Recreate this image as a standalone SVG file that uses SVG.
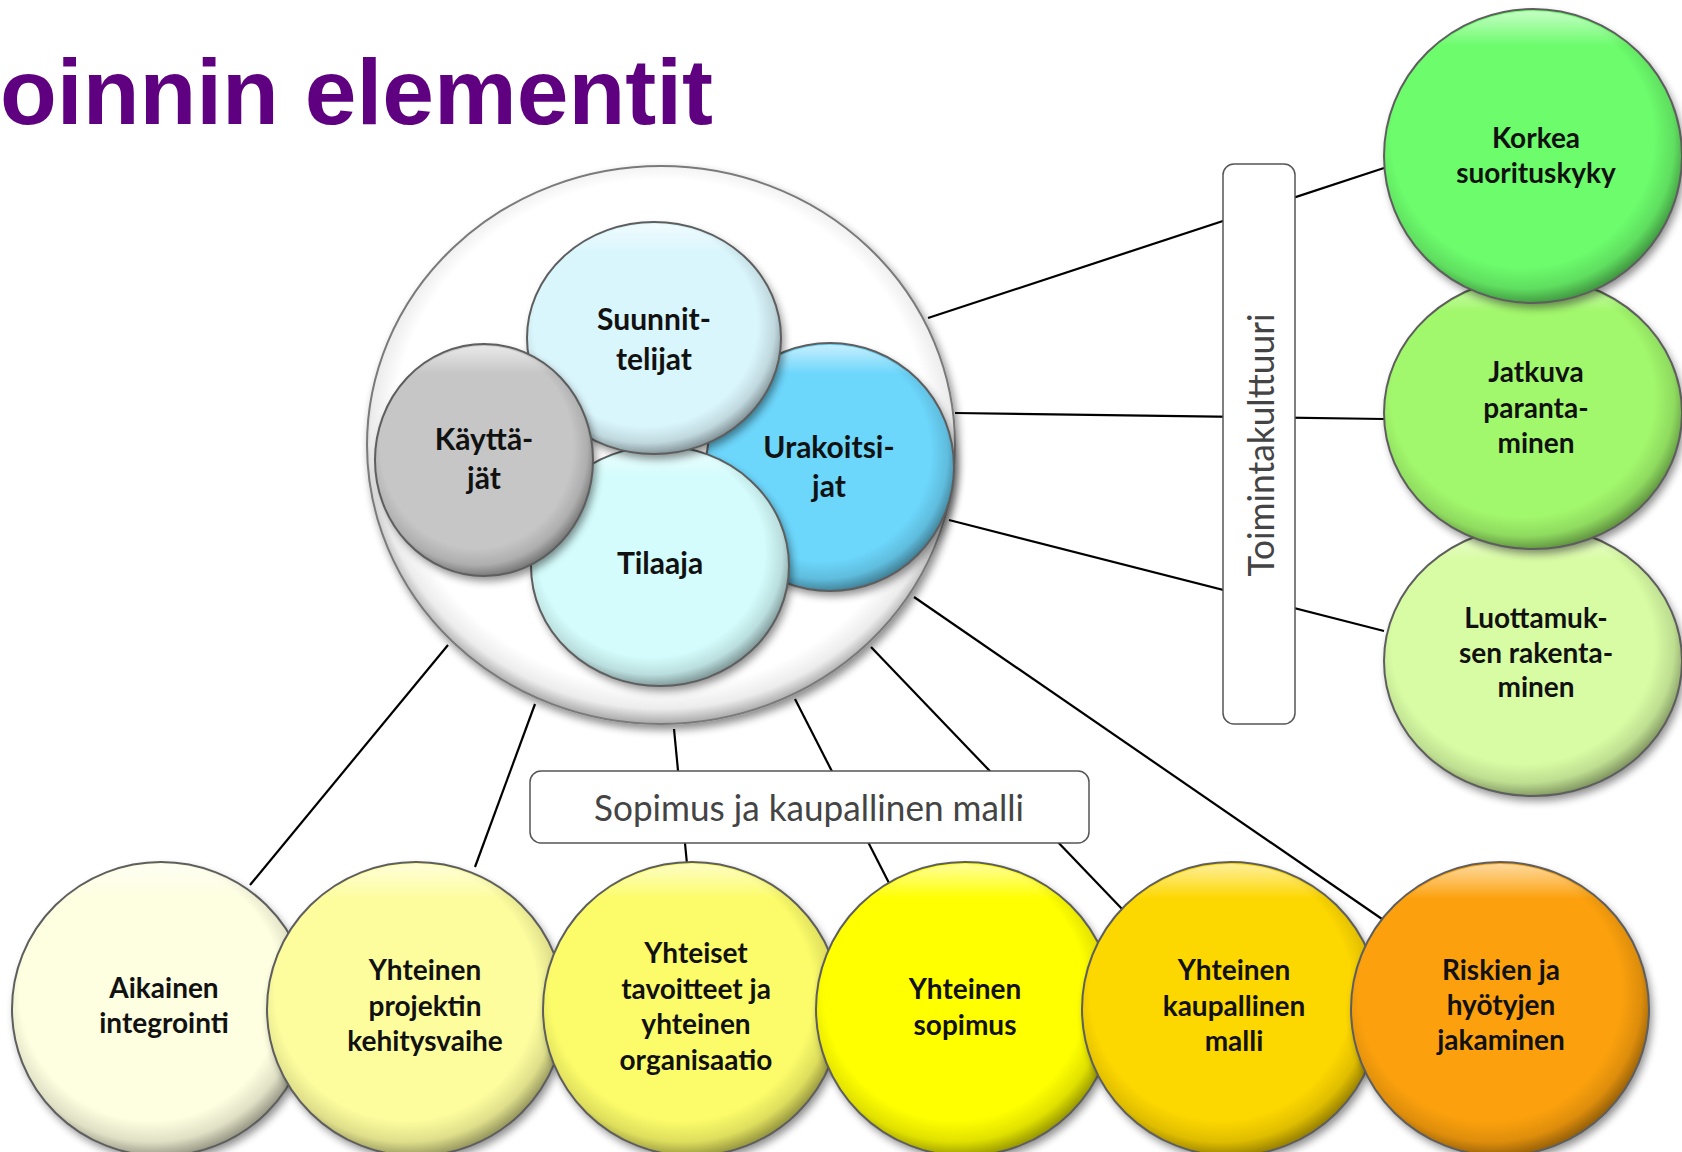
<svg xmlns="http://www.w3.org/2000/svg" width="1682" height="1152" viewBox="0 0 1682 1152">
<style>
.bev{fill:url(#bev);stroke:#5e5e5e;stroke-width:2}
.lbl{font-family:Lato,"Liberation Sans",sans-serif;font-weight:bold;font-size:28px;fill:#111;text-anchor:middle}
.lbl2{font-family:Lato,"Liberation Sans",sans-serif;font-weight:bold;font-size:30px;fill:#111;text-anchor:middle}
.box{fill:#fff;stroke:#555;stroke-width:1.5}
.boxt{font-family:Lato,"Open Sans",sans-serif;font-weight:normal;font-size:36px;fill:#444;text-anchor:middle}
.con line{stroke:#000;stroke-width:2.2}
</style>
<defs>
<radialGradient id="bev" cx="0.47" cy="0.45" r="0.55" fx="0.45" fy="0.4">
<stop offset="0" stop-color="#fff" stop-opacity="0"/>
<stop offset="0.8" stop-color="#000" stop-opacity="0"/>
<stop offset="0.92" stop-color="#000" stop-opacity="0.12"/>
<stop offset="1" stop-color="#000" stop-opacity="0.38"/>
</radialGradient>
<linearGradient id="hl" x1="0" y1="0" x2="0" y2="1">
<stop offset="0" stop-color="#fff" stop-opacity="0.6"/>
<stop offset="0.12" stop-color="#fff" stop-opacity="0"/>
</linearGradient>
<radialGradient id="ring" cx="0.5" cy="0.48" r="0.53">
<stop offset="0.86" stop-color="#fff"/>
<stop offset="0.93" stop-color="#ececec"/>
<stop offset="1" stop-color="#8f8f8f"/>
</radialGradient>
<filter id="sh" x="-20%" y="-20%" width="140%" height="140%">
<feGaussianBlur in="SourceAlpha" stdDeviation="4"/>
<feOffset dx="3" dy="5"/>
<feComponentTransfer><feFuncA type="linear" slope="0.45"/></feComponentTransfer>
<feMerge><feMergeNode/><feMergeNode in="SourceGraphic"/></feMerge>
</filter>
</defs>
<rect width="1682" height="1152" fill="#fff"/>
<text x="0" y="124" font-family="Liberation Sans, Arial, sans-serif" font-weight="bold" font-size="93" fill="#5e0080">oinnin elementit</text>

<g id="connectors" class="con">
<line x1="928" y1="318" x2="1384" y2="168"/>
<line x1="955" y1="413" x2="1384" y2="419"/>
<line x1="949" y1="520" x2="1384" y2="631"/>
<line x1="448" y1="645" x2="250" y2="885"/>
<line x1="535" y1="704" x2="475" y2="867"/>
<line x1="674" y1="729" x2="687" y2="864"/>
<line x1="795" y1="699" x2="889" y2="883"/>
<line x1="871" y1="647" x2="1123" y2="910"/>
<line x1="914" y1="597" x2="1382" y2="919"/>
</g>

<g id="n-outer">
<ellipse cx="661" cy="445" rx="294" ry="279" fill="url(#ring)" stroke="#7a7a7a" stroke-width="2" filter="url(#sh)"/>
</g>

<g id="n-urakoitsijat">
<ellipse cx="830" cy="467" rx="124" ry="124" fill="#6cd6fb" filter="url(#sh)"/>
<ellipse cx="830" cy="467" rx="124" ry="124" class="bev"/>
<ellipse cx="830" cy="467" rx="122" ry="122" fill="url(#hl)"/>
<text class="lbl2" x="829" y="458">Urakoitsi-</text>
<text class="lbl2" x="829" y="497">jat</text>
</g>
<g id="n-tilaaja">
<ellipse cx="660" cy="566" rx="129" ry="120" fill="#d4fcfc" filter="url(#sh)"/>
<ellipse cx="660" cy="566" rx="129" ry="120" class="bev"/>
<ellipse cx="660" cy="566" rx="127" ry="118" fill="url(#hl)"/>
<text class="lbl2" x="660" y="574">Tilaaja</text>
</g>
<g id="n-suunnittelijat">
<ellipse cx="654" cy="338" rx="127" ry="116" fill="#daf6fd" filter="url(#sh)"/>
<ellipse cx="654" cy="338" rx="127" ry="116" class="bev"/>
<ellipse cx="654" cy="338" rx="125" ry="114" fill="url(#hl)"/>
<text class="lbl2" x="654" y="330">Suunnit-</text>
<text class="lbl2" x="654" y="370">telijat</text>
</g>
<g id="n-kayttajat">
<ellipse cx="484" cy="460" rx="109" ry="116" fill="#c6c6c6" filter="url(#sh)"/>
<ellipse cx="484" cy="460" rx="109" ry="116" class="bev"/>
<ellipse cx="484" cy="460" rx="107" ry="114" fill="url(#hl)"/>
<text class="lbl2" x="484" y="450">Käyttä-</text>
<text class="lbl2" x="484" y="489">jät</text>
</g>

<g id="n-toimintakulttuuri">
<rect class="box" x="1223" y="164" width="72" height="560" rx="11"/>
<text class="boxt" transform="translate(1274,445) rotate(-90)" x="0" y="0" textLength="263" lengthAdjust="spacingAndGlyphs">Toimintakulttuuri</text>
</g>
<g id="n-sopimus">
<rect class="box" x="530" y="771" width="559" height="72" rx="11"/>
<text class="boxt" x="809" y="821" textLength="430" lengthAdjust="spacingAndGlyphs">Sopimus ja kaupallinen malli</text>
</g>

<g id="n-luottamuksen">
<ellipse cx="1533" cy="661" rx="149" ry="135" fill="#d8fca4" filter="url(#sh)"/>
<ellipse cx="1533" cy="661" rx="149" ry="135" class="bev"/>
<ellipse cx="1533" cy="661" rx="147" ry="133" fill="url(#hl)"/>
<text class="lbl" x="1536" y="628">Luottamuk-</text>
<text class="lbl" x="1536" y="663">sen rakenta-</text>
<text class="lbl" x="1536" y="697">minen</text>
</g>
<g id="n-jatkuva">
<ellipse cx="1533" cy="413" rx="149" ry="136" fill="#a2f86c" filter="url(#sh)"/>
<ellipse cx="1533" cy="413" rx="149" ry="136" class="bev"/>
<ellipse cx="1533" cy="413" rx="147" ry="134" fill="url(#hl)"/>
<text class="lbl" x="1536" y="382">Jatkuva</text>
<text class="lbl" x="1536" y="418">paranta-</text>
<text class="lbl" x="1536" y="453">minen</text>
</g>
<g id="n-korkea">
<ellipse cx="1533" cy="156" rx="149" ry="147" fill="#6cfc6c" filter="url(#sh)"/>
<ellipse cx="1533" cy="156" rx="149" ry="147" class="bev"/>
<ellipse cx="1533" cy="156" rx="147" ry="145" fill="url(#hl)"/>
<text class="lbl" x="1536" y="148">Korkea</text>
<text class="lbl" x="1536" y="183">suorituskyky</text>
</g>

<g id="n-aikainen">
<ellipse cx="161" cy="1009" rx="149" ry="147" fill="#fefee0" filter="url(#sh)"/>
<ellipse cx="161" cy="1009" rx="149" ry="147" class="bev"/>
<ellipse cx="161" cy="1009" rx="147" ry="145" fill="url(#hl)"/>
<text class="lbl" x="164" y="998">Aikainen</text>
<text class="lbl" x="164" y="1033">integrointi</text>
</g>
<g id="n-projektin">
<ellipse cx="416" cy="1009" rx="149" ry="147" fill="#fdfd9e" filter="url(#sh)"/>
<ellipse cx="416" cy="1009" rx="149" ry="147" class="bev"/>
<ellipse cx="416" cy="1009" rx="147" ry="145" fill="url(#hl)"/>
<text class="lbl" x="425" y="980">Yhteinen</text>
<text class="lbl" x="425" y="1016">projektin</text>
<text class="lbl" x="425" y="1051">kehitysvaihe</text>
</g>
<g id="n-tavoitteet">
<ellipse cx="692" cy="1009" rx="149" ry="147" fill="#fcfc6a" filter="url(#sh)"/>
<ellipse cx="692" cy="1009" rx="149" ry="147" class="bev"/>
<ellipse cx="692" cy="1009" rx="147" ry="145" fill="url(#hl)"/>
<text class="lbl" x="696" y="963">Yhteiset</text>
<text class="lbl" x="696" y="999">tavoitteet ja</text>
<text class="lbl" x="696" y="1034">yhteinen</text>
<text class="lbl" x="696" y="1070">organisaatio</text>
</g>
<g id="n-sopimus-ball">
<ellipse cx="965" cy="1009" rx="149" ry="147" fill="#ffff00" filter="url(#sh)"/>
<ellipse cx="965" cy="1009" rx="149" ry="147" class="bev"/>
<ellipse cx="965" cy="1009" rx="147" ry="145" fill="url(#hl)"/>
<text class="lbl" x="965" y="999">Yhteinen</text>
<text class="lbl" x="965" y="1035">sopimus</text>
</g>
<g id="n-kaupallinen">
<ellipse cx="1231" cy="1009" rx="149" ry="147" fill="#fdd700" filter="url(#sh)"/>
<ellipse cx="1231" cy="1009" rx="149" ry="147" class="bev"/>
<ellipse cx="1231" cy="1009" rx="147" ry="145" fill="url(#hl)"/>
<text class="lbl" x="1234" y="980">Yhteinen</text>
<text class="lbl" x="1234" y="1016">kaupallinen</text>
<text class="lbl" x="1234" y="1051">malli</text>
</g>
<g id="n-riskien">
<ellipse cx="1500" cy="1009" rx="149" ry="147" fill="#fca10c" filter="url(#sh)"/>
<ellipse cx="1500" cy="1009" rx="149" ry="147" class="bev"/>
<ellipse cx="1500" cy="1009" rx="147" ry="145" fill="url(#hl)"/>
<text class="lbl" x="1501" y="980">Riskien ja</text>
<text class="lbl" x="1501" y="1015">hyötyjen</text>
<text class="lbl" x="1501" y="1050">jakaminen</text>
</g>
</svg>
